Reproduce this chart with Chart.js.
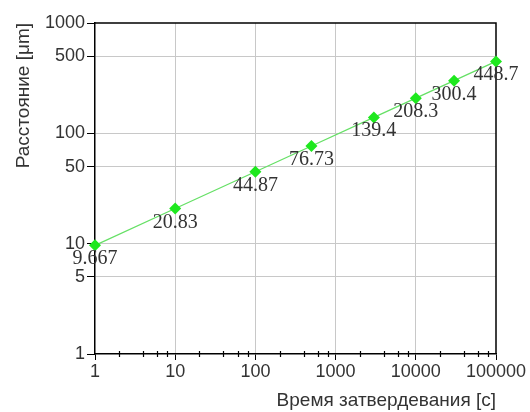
<!DOCTYPE html>
<html><head><meta charset="utf-8">
<script src="https://cdn.jsdelivr.net/npm/chart.js@4/dist/chart.umd.min.js"></script>
<style>html,body{margin:0;padding:0;background:#fff}#wrap{width:530px;height:412px}</style>
</head><body><div id="wrap"><canvas id="c" width="530" height="412"></canvas></div>
<script>
const times = [1, 10, 100, 500, 3000, 10000, 30000, 100000];
const distances = [9.667, 20.83, 44.87, 76.73, 139.4, 208.3, 300.4, 448.7];
const pointLabels = ['9.667', '20.83', '44.87', '76.73', '139.4', '208.3', '300.4', '448.7'];
const xTickValues = [1, 10, 100, 1000, 10000, 100000];
const xMinorSteps = [2, 4, 6, 8];
const yTickValues = [1, 5, 10, 50, 100, 500, 1000];
const xTitle = 'Время затвердевания [c]';
const yTitle = 'Расстояние [μm]';

const TEXT = '#333';
const GRID = '#c8c8c8';
const SANS = '"Liberation Sans", Arial, sans-serif';

const framePlugin = {
  id: 'frame',
  beforeDatasetsDraw(chart) {
    const {ctx, chartArea: a} = chart;
    ctx.save();
    ctx.strokeStyle = '#000';
    ctx.lineWidth = 1.5;
    ctx.beginPath();
    ctx.moveTo(a.left, a.top); ctx.lineTo(a.right, a.top); ctx.lineTo(a.right, a.bottom);
    ctx.stroke();
    const xs = chart.scales.x;
    ctx.lineWidth = 1.2;
    ctx.beginPath();
    for (let d = 1; d < 100000; d *= 10) {
      xMinorSteps.forEach(m => {
        const px = Math.round(xs.getPixelForValue(m * d)) + 0.5;
        ctx.moveTo(px, a.bottom - 3); ctx.lineTo(px, a.bottom + 3);
      });
    }
    ctx.stroke();
    ctx.restore();
  }
};

const labelPlugin = {
  id: 'pointLabels',
  afterDatasetsDraw(chart) {
    const {ctx} = chart;
    const meta = chart.getDatasetMeta(0);
    ctx.save();
    ctx.font = '20px "Liberation Serif", "Times New Roman", serif';
    ctx.fillStyle = TEXT;
    ctx.textAlign = 'center';
    ctx.textBaseline = 'alphabetic';
    meta.data.forEach((el, i) => {
      ctx.fillText(pointLabels[i], el.x, el.y + 19);
    });
    ctx.restore();
  }
};

new Chart(document.getElementById('c'), {
  type: 'line',
  data: {
    datasets: [{
      data: times.map((t, i) => ({x: t, y: distances[i]})),
      borderColor: '#66e066',
      borderWidth: 1.3,
      backgroundColor: '#1ee81e',
      pointBackgroundColor: '#1ee81e',
      pointBorderColor: '#1ee81e',
      pointBorderWidth: 0,
      pointStyle: 'rectRot',
      pointRadius: 6,
      tension: 0,
      clip: false
    }]
  },
  options: {
    responsive: false,
    animation: false,
    devicePixelRatio: 1,
    layout: {padding: {left: 0, right: 34, top: 23, bottom: 0}},
    plugins: {legend: {display: false}, tooltip: {enabled: false}},
    scales: {
      x: {
        type: 'logarithmic',
        min: 1, max: 100000,
        afterBuildTicks: s => { s.ticks = xTickValues.map(v => ({value: v})); },
        afterFit: s => { s.height = 58; },
        ticks: {
          autoSkip: false, maxRotation: 0, padding: 1,
          color: TEXT,
          font: {family: SANS, size: 18},
          callback: v => String(v)
        },
        grid: {
          color: c => (c.tick && (c.tick.value === 1 || c.tick.value === 100000)) ? 'rgba(0,0,0,0)' : GRID,
          tickColor: '#000', tickLength: 6, lineWidth: 1
        },
        border: {color: '#000', width: 1.5},
        title: {
          display: true, text: xTitle, align: 'end', color: TEXT,
          font: {family: SANS, size: 19},
          padding: {top: 0, bottom: 0}
        }
      },
      y: {
        type: 'logarithmic',
        min: 1, max: 1000,
        afterBuildTicks: s => { s.ticks = yTickValues.map(v => ({value: v})); },
        afterFit: s => { s.width = 95; },
        ticks: {
          autoSkip: false, padding: 2,
          color: TEXT,
          font: {family: SANS, size: 18},
          callback: v => String(v)
        },
        grid: {
          color: c => (c.tick && (c.tick.value === 1 || c.tick.value === 1000)) ? 'rgba(0,0,0,0)' : GRID,
          tickColor: '#000', tickLength: 8, lineWidth: 1
        },
        border: {color: '#000', width: 1.5},
        title: {
          display: true, text: yTitle, align: 'end', color: TEXT,
          font: {family: SANS, size: 19},
          padding: {top: 12, bottom: 0}
        }
      }
    }
  },
  plugins: [framePlugin, labelPlugin]
});
</script></body></html>
